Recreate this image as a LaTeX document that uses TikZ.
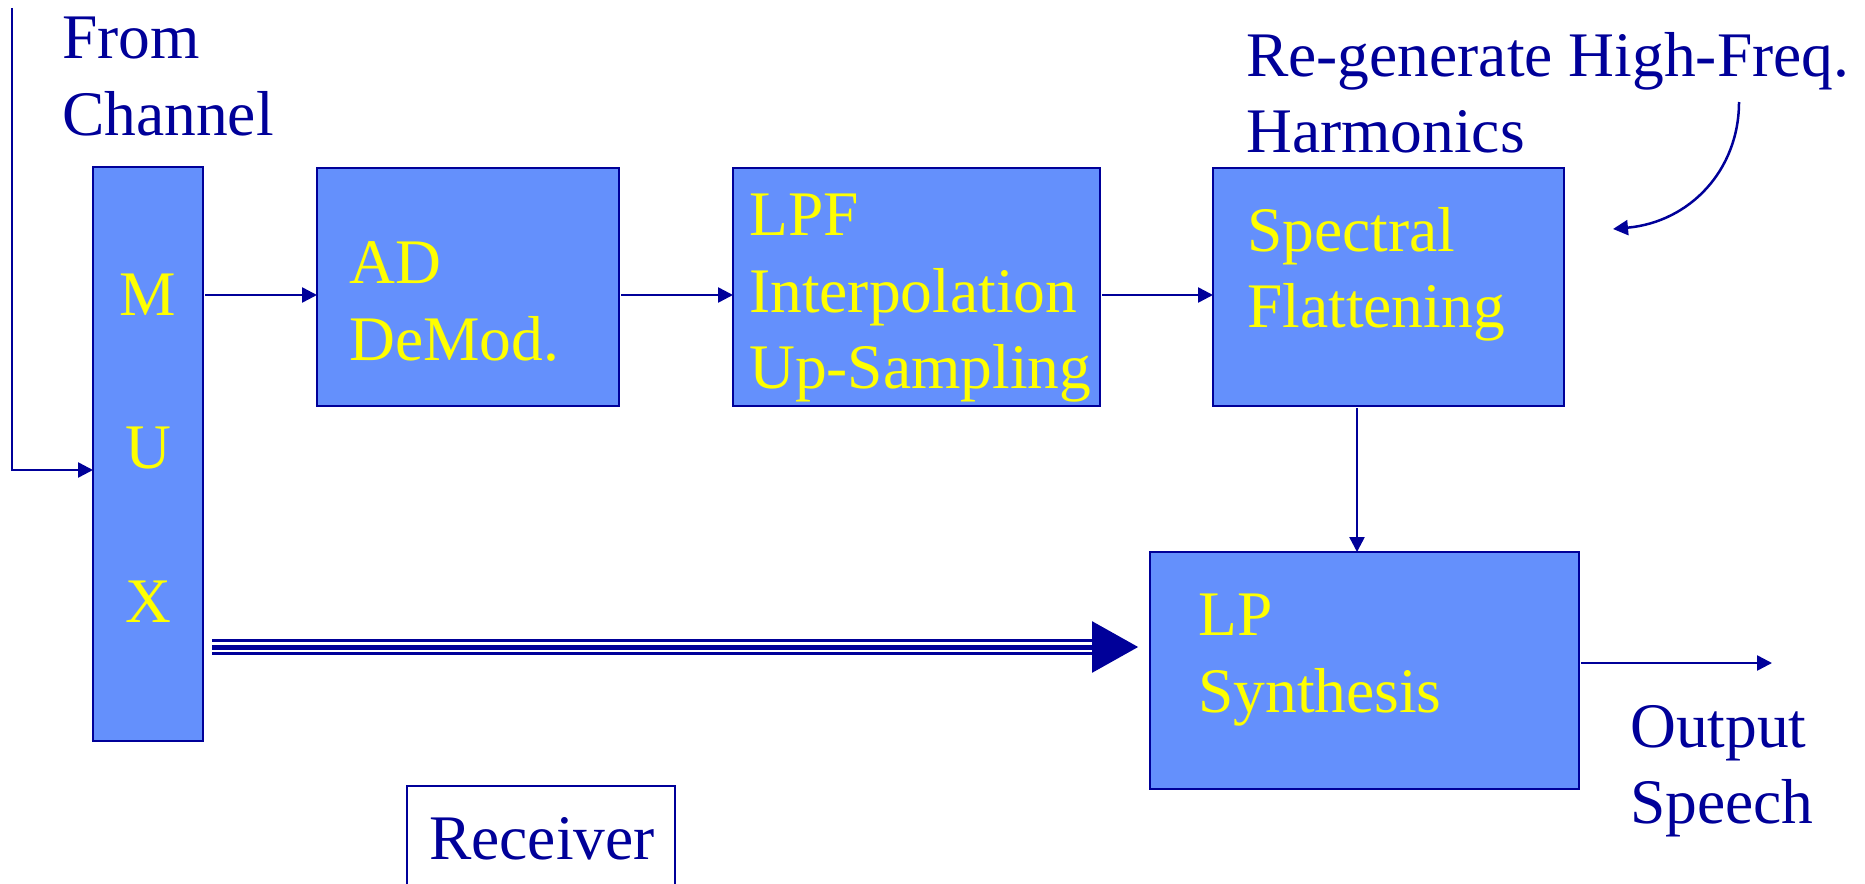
\documentclass[tikz,border=0pt]{standalone}
\usepackage{fontspec}
\setmainfont{Liberation Serif}
\usetikzlibrary{arrows.meta,calc}
\definecolor{navy}{HTML}{000099}
\definecolor{boxfill}{HTML}{6490FC}
\definecolor{ylw}{HTML}{FFFF00}
\begin{document}
\begin{tikzpicture}[x=1pt,y=-1pt,
  box/.style={draw=navy, fill=boxfill, line width=2.5pt, inner sep=0pt, outer sep=0pt, anchor=north west},
  lbl/.style={font=\fontsize{63.5}{76}\selectfont, text=navy, inner sep=0pt, anchor=base west},
  ylbl/.style={lbl, text=ylw},
  ctr/.style={ylbl, anchor=base},
  arr/.style={draw=navy, line width=2.5pt, -{Triangle[length=15pt,width=15pt]}},
]
\useasboundingbox (0,0) rectangle (1865,883);
\clip (0,0) rectangle (1865,883);

% boxes
\node[box, minimum width=110pt, minimum height=574pt] (mux) at (93,167) {};
\node[box, minimum width=302pt, minimum height=238pt] (ad) at (317,168) {};
\node[box, minimum width=367pt, minimum height=238pt] (lpf) at (733,168) {};
\node[box, minimum width=351pt, minimum height=238pt] (sf) at (1213,168) {};
\node[box, minimum width=429pt, minimum height=237pt] (lp) at (1150,552) {};
\node[draw=navy, fill=white, line width=2.5pt, inner sep=0pt, outer sep=0pt, anchor=north west,
      minimum width=268pt, minimum height=200pt] (rcv) at (407,786) {};

% texts
\node[lbl] (t1) at (62,59) {From};
\node[lbl] (t2) at (62,135) {Channel};
\node[lbl] (t3) at (1246,76) {Re-generate High-Freq.};
\node[lbl] (t4) at (1246,152) {Harmonics};
\node[lbl] (t5) at (1630,747) {Output};
\node[lbl] (t6) at (1630,823) {Speech};
\node[lbl] (t7) at (429,859) {Receiver};

\node[ctr] (m1) at (148,315) {M};
\node[ctr] (m2) at (148,468) {U};
\node[ctr] (m3) at (148,622) {X};
\node[ylbl] (a1) at (349,283) {AD};
\node[ylbl] (a2) at (349,360) {DeMod.};
\node[ylbl] (l1) at (749,235) {LPF};
\node[ylbl] (l2) at (749,312) {Interpolation};
\node[ylbl] (l3) at (749,388) {Up-Sampling};
\node[ylbl] (s1) at (1247,251) {Spectral};
\node[ylbl] (s2) at (1247,327) {Flattening};
\node[ylbl] (p1) at (1198,635) {LP};
\node[ylbl] (p2) at (1198,712) {Synthesis};

% helper coordinates
\coordinate (ch) at (12,8);
\coordinate (r1) at (0,295);
\coordinate (r2) at (0,647);
\coordinate (c1) at (1357,0);
\coordinate (oe) at (1772,663);
\coordinate (cs) at (1739,102);
\coordinate (ce) at (1613,229);

% connectors
\draw[arr] (ch) |- ([yshift=-16pt]mux.west);
\draw[arr, shorten <=2pt] (mux.east |- r1) -- (ad.west |- r1);
\draw[arr, shorten <=2pt] (ad.east |- r1) -- (lpf.west |- r1);
\draw[arr, shorten <=2pt] (lpf.east |- r1) -- (sf.west |- r1);
\draw[arr, shorten <=2pt] (sf.south -| c1) -- (lp.north -| c1);
\draw[arr, shorten <=2pt] (lp.east |- oe) -- (oe);
\draw[arr] (cs) .. controls (1739,170) and (1690,222) .. (ce);

% triple-line arrow
\draw[navy, line width=16pt, shorten <=9pt, shorten >=11pt, -{Triangle[length=47pt,width=48pt]}] (mux.east |- r2) -- (lp.west |- r2);
\draw[white, line width=10pt, shorten <=9pt, shorten >=58pt] (mux.east |- r2) -- (lp.west |- r2);
\draw[navy, line width=5pt, shorten <=9pt, shorten >=58pt] (mux.east |- r2) -- (lp.west |- r2);
\end{tikzpicture}
\end{document}
